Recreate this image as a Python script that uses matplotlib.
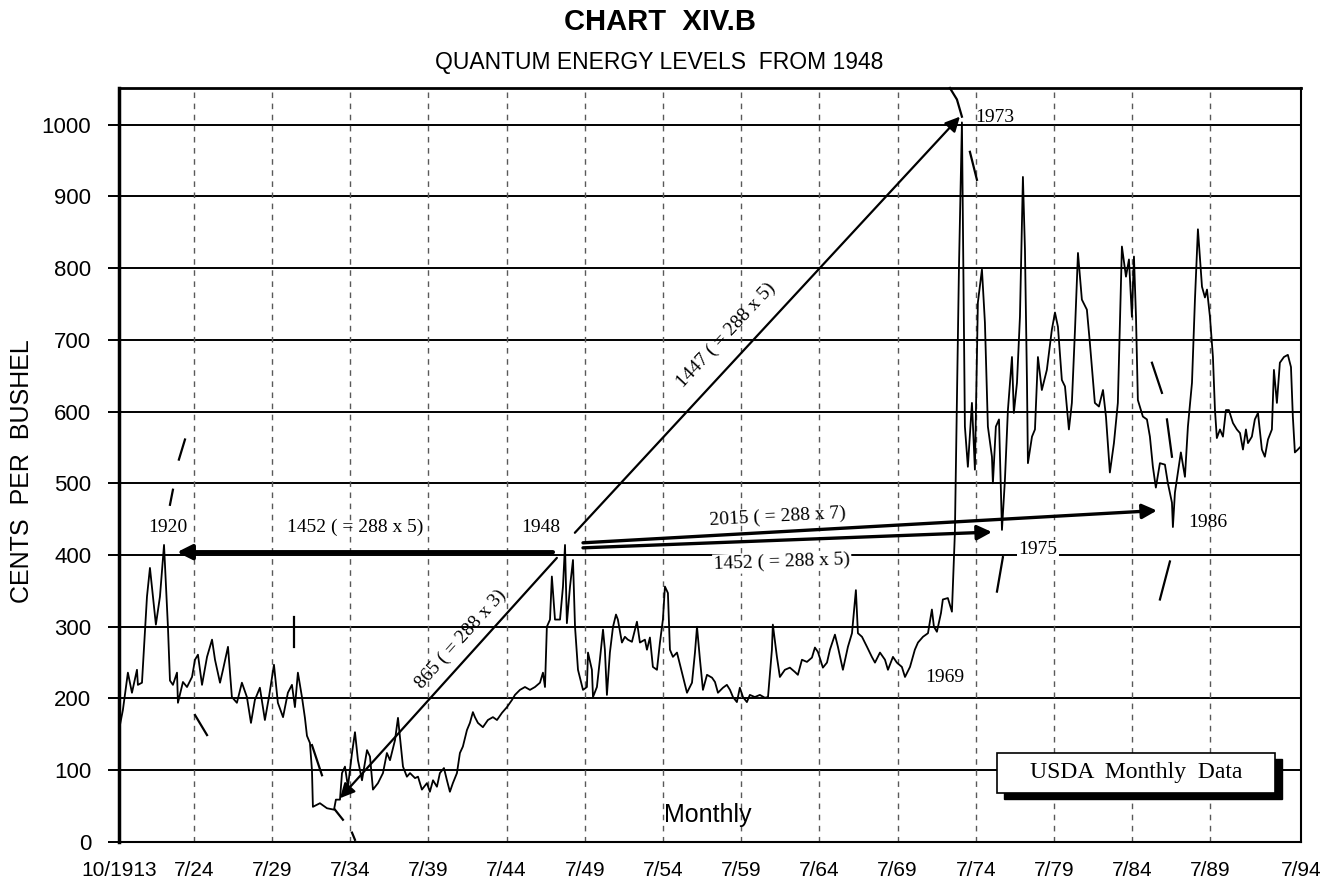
import matplotlib
matplotlib.use("Agg")
import matplotlib.pyplot as plt
from matplotlib.patches import Rectangle

# Precio mensual (centavos por bushel), posición en años sobre el eje
anios = [
    1919.75, 1920.00, 1920.32, 1920.58, 1920.90, 1920.96, 1921.22, 1921.54, 1921.73, 1922.11,
    1922.37, 1922.63, 1922.88, 1923.01, 1923.20, 1923.46, 1923.52, 1923.84, 1924.10, 1924.42,
    1924.61, 1924.80, 1925.06, 1925.38, 1925.70, 1925.89, 1926.21, 1926.40, 1926.72, 1926.97,
    1927.29, 1927.61, 1927.93, 1928.19, 1928.44, 1928.76, 1929.08, 1929.34, 1929.66, 1929.91,
    1930.24, 1930.55, 1930.81, 1931.00, 1931.19, 1931.45, 1931.64, 1931.77, 1931.96, 1932.09,
    1932.15, 1932.60, 1933.05, 1933.50, 1933.62, 1933.88, 1934.01, 1934.20, 1934.39, 1934.65,
    1934.84, 1935.03, 1935.29, 1935.61, 1935.80, 1935.99, 1936.31, 1936.63, 1936.88, 1937.08,
    1937.40, 1937.59, 1937.91, 1938.16, 1938.36, 1938.68, 1938.87, 1939.12, 1939.44, 1939.63,
    1939.83, 1940.08, 1940.27, 1940.53, 1940.72, 1940.91, 1941.10, 1941.36, 1941.55, 1941.74,
    1942.00, 1942.19, 1942.38, 1942.51, 1942.70, 1943.02, 1943.34, 1943.66, 1943.92, 1944.24,
    1944.56, 1944.88, 1945.07, 1945.39, 1945.71, 1946.03, 1946.35, 1946.67, 1946.86, 1946.99,
    1947.11, 1947.31, 1947.43, 1947.63, 1947.95, 1948.14, 1948.27, 1948.39, 1948.59, 1948.78,
    1948.91, 1949.10, 1949.42, 1949.67, 1949.74, 1949.99, 1950.06, 1950.31, 1950.50, 1950.70,
    1950.82, 1950.95, 1951.14, 1951.34, 1951.53, 1951.65, 1951.91, 1952.10, 1952.29, 1952.55,
    1952.87, 1953.06, 1953.38, 1953.51, 1953.70, 1953.89, 1954.15, 1954.34, 1954.53, 1954.66,
    1954.85, 1954.98, 1955.17, 1955.43, 1955.75, 1956.07, 1956.39, 1956.58, 1956.71, 1956.90,
    1957.09, 1957.35, 1957.67, 1957.86, 1958.05, 1958.37, 1958.62, 1958.82, 1959.01, 1959.26,
    1959.45, 1959.65, 1959.90, 1960.09, 1960.41, 1960.73, 1961.05, 1961.25, 1961.50, 1961.56,
    1961.82, 1962.01, 1962.33, 1962.65, 1962.97, 1963.16, 1963.42, 1963.74, 1964.06, 1964.25,
    1964.44, 1964.76, 1965.02, 1965.21, 1965.53, 1965.72, 1966.04, 1966.36, 1966.62, 1966.87,
    1967.00, 1967.26, 1967.58, 1967.89, 1968.09, 1968.41, 1968.73, 1968.92, 1969.24, 1969.49,
    1969.81, 1970.01, 1970.33, 1970.64, 1970.84, 1971.16, 1971.48, 1971.73, 1971.86, 1972.05,
    1972.31, 1972.43, 1972.75, 1973.01, 1973.07, 1973.20, 1973.33, 1973.46, 1973.65, 1973.84,
    1974.03, 1974.29, 1974.48, 1974.67, 1974.93, 1975.12, 1975.31, 1975.57, 1975.63, 1975.82,
    1976.02, 1976.21, 1976.40, 1976.59, 1976.85, 1976.97, 1977.17, 1977.36, 1977.55, 1977.68,
    1977.81, 1977.87, 1978.13, 1978.32, 1978.51, 1978.76, 1979.08, 1979.40, 1979.60, 1979.79,
    1980.04, 1980.24, 1980.49, 1980.68, 1980.88, 1981.07, 1981.32, 1981.64, 1981.83, 1982.15,
    1982.41, 1982.67, 1982.86, 1983.11, 1983.37, 1983.62, 1983.88, 1984.14, 1984.33, 1984.52,
    1984.65, 1984.78, 1984.90, 1985.22, 1985.48, 1985.67, 1985.86, 1986.05, 1986.31, 1986.63,
    1986.82, 1987.08, 1987.14, 1987.27, 1987.46, 1987.65, 1987.91, 1988.10, 1988.36, 1988.55,
    1988.74, 1989.00, 1989.19, 1989.32, 1989.51, 1989.70, 1989.83, 1989.95, 1990.15, 1990.34,
    1990.53, 1990.72, 1990.98, 1991.23, 1991.43, 1991.62, 1991.81, 1991.94, 1992.19, 1992.38,
    1992.58, 1992.83, 1993.02, 1993.22, 1993.47, 1993.60, 1993.79, 1993.98, 1994.24, 1994.49,
    1994.69, 1994.81, 1994.94, 1995.13, 1995.26,
]
centavos = [
    156, 184, 236, 208, 240, 219, 222, 342, 382, 303,
    342, 414, 300, 225, 219, 236, 194, 223, 216, 230,
    254, 261, 219, 258, 282, 254, 222, 240, 272, 202,
    194, 222, 202, 166, 198, 215, 170, 202, 247, 194,
    174, 208, 219, 188, 236, 202, 173, 148, 138, 100,
    49, 54, 47, 45, 59, 59, 96, 105, 77, 124,
    153, 114, 86, 128, 119, 73, 82, 96, 124, 114,
    142, 173, 105, 91, 96, 89, 91, 73, 82, 70,
    86, 77, 96, 103, 86, 70, 82, 96, 124, 133,
    156, 166, 181, 174, 166, 160, 170, 174, 170, 180,
    188, 198, 205, 212, 216, 212, 216, 222, 236, 216,
    300, 310, 370, 310, 310, 356, 414, 305, 356, 393,
    300, 240, 212, 216, 264, 240, 202, 216, 254, 296,
    268, 205, 264, 300, 317, 310, 278, 286, 282, 279,
    307, 278, 282, 268, 285, 244, 240, 278, 310, 356,
    347, 268, 258, 264, 236, 208, 222, 264, 300, 254,
    212, 233, 229, 223, 208, 215, 219, 212, 202, 195,
    215, 202, 195, 205, 202, 205, 201, 202, 268, 303,
    258, 230, 240, 243, 237, 233, 254, 251, 257, 271,
    265, 243, 250, 268, 289, 272, 240, 272, 291, 351,
    291, 286, 272, 258, 250, 264, 254, 240, 258, 250,
    244, 230, 244, 268, 278, 286, 291, 324, 300, 293,
    319, 338, 340, 321, 356, 431, 616, 800, 1003, 579,
    523, 612, 519, 752, 798, 724, 579, 537, 500, 579,
    589, 435, 505, 602, 676, 598, 640, 732, 927, 826,
    640, 528, 565, 575, 676, 630, 658, 714, 738, 718,
    644, 635, 575, 612, 714, 821, 756, 742, 696, 612,
    607, 630, 593, 515, 556, 612, 830, 788, 812, 732,
    816, 732, 616, 593, 589, 565, 523, 494, 528, 526,
    500, 473, 439, 487, 515, 543, 509, 579, 640, 756,
    854, 774, 759, 770, 732, 676, 602, 563, 575, 565,
    602, 602, 584, 575, 570, 547, 575, 556, 565, 589,
    598, 547, 537, 561, 575, 658, 612, 668, 676, 679,
    662, 593, 543, 547, 550,
]

# Eje X
x_min, x_max = 1919.75, 1995.33
pos_ticks = [x_min, 1924.54, 1929.54, 1934.54, 1939.54, 1944.54, 1949.54, 1954.54,
             1959.54, 1964.54, 1969.54, 1974.54, 1979.54, 1984.54, 1989.54, x_max]
etiquetas_x = ["10/1913", "7/24", "7/29", "7/34", "7/39", "7/44", "7/49", "7/54",
               "7/59", "7/64", "7/69", "7/74", "7/79", "7/84", "7/89", "7/94"]
ticks_y = list(range(0, 1001, 100))

# Flechas: (inicio, fin, grosor)
flechas = [
    ((1947.50, 404), (1923.46, 404), 3.0),
    ((1947.75, 396), (1933.88, 61), 1.6),
    ((1948.90, 431), (1973.52, 1011), 1.6),
    ((1949.42, 417), (1986.12, 462), 2.4),
    ((1949.42, 410), (1975.57, 432), 2.4),
]

# Textos de las flechas: (x, y, texto, rotación, fondo blanco)
textos_flechas = [
    (1934.84, 439, "1452 ( = 288 x 5)", 0, False),
    (1941.62, 282, "865 ( = 288 x 3)", 48, False),
    (1958.56, 706, "1447 ( = 288 x 5)", 47, False),
    (1961.89, 453, "2015 ( = 288 x 7)", 3, False),
    (1962.14, 390, "1452 ( = 288 x 5)", 2, True),
]

# Años marcados
anios_marcados = [
    (1922.88, 439, "1920", False),
    (1946.73, 438, "1948", False),
    (1975.76, 1010, "1973", False),
    (1972.56, 229, "1969", False),
    (1978.51, 407, "1975", True),
    (1989.38, 446, "1986", False),
]

# Trazos a mano (líneas discontinuas curvas)
trazos = [
    ([1923.01, 1923.20], [470, 491]),
    ([1923.58, 1923.97], [533, 561]),
    ([1924.61, 1925.38], [177, 149]),
    ([1930.94, 1930.94], [314, 272]),
    ([1932.09, 1932.73], [135, 93]),
    ([1933.56, 1934.07], [45, 31]),
    ([1934.65, 1934.84], [13, 3]),
    ([1972.88, 1973.33, 1973.65], [1051, 1035, 1011]),
    ([1974.16, 1974.61], [962, 923]),
    ([1976.27, 1975.89], [397, 349]),
    ([1985.80, 1986.44], [668, 626]),
    ([1986.76, 1987.08], [589, 537]),
    ([1986.95, 1986.31], [391, 338]),
]

sans = "Liberation Sans"
serif = "Liberation Serif"

fig = plt.figure(figsize=(13.22, 8.86), dpi=100)
ax = fig.add_axes([0.090, 0.0497, 0.8941, 0.851])

ax.plot(anios, centavos, color="black", lw=1.3, zorder=3)

ax.set_xlim(x_min, x_max)
ax.set_ylim(0, 1051)

# Rejilla
for v in ticks_y:
    ax.axhline(v, color="black", lw=1.4, zorder=1)
for p in pos_ticks[1:-1]:
    ax.axvline(p, color="0.35", lw=1.0, ls=(0, (4, 4)), zorder=1)

ax.set_xticks(pos_ticks)
ax.set_xticklabels(etiquetas_x, fontfamily=sans, fontsize=15)
ax.set_yticks(ticks_y)
ax.set_yticklabels([str(v) for v in ticks_y], fontfamily=sans, fontsize=16)
ax.tick_params(axis="x", length=0, pad=14)
ax.tick_params(axis="y", length=8, width=1.4, pad=12)

ax.spines["left"].set_linewidth(2.5)
ax.spines["top"].set_linewidth(2.0)
ax.spines["right"].set_linewidth(1.5)
ax.spines["bottom"].set_linewidth(1.5)

# Flechas
for ini, fin, grosor in flechas:
    ax.annotate("", xy=fin, xytext=ini,
                arrowprops=dict(arrowstyle="-|>", color="black", lw=grosor,
                                mutation_scale=22, shrinkA=0, shrinkB=0),
                zorder=4)

for x, y, t, rot, fondo in textos_flechas:
    caja = dict(facecolor="white", edgecolor="none", pad=1) if fondo else None
    ax.text(x, y, t, fontfamily=serif, fontsize=14, ha="center", va="center",
            rotation=rot, rotation_mode="anchor", bbox=caja, zorder=5)

for x, y, t, fondo in anios_marcados:
    caja = dict(facecolor="white", edgecolor="none", pad=1) if fondo else None
    ax.text(x, y, t, fontfamily=serif, fontsize=14, ha="center", va="center",
            bbox=caja, zorder=5)

for xs, ys in trazos:
    ax.plot(xs, ys, color="black", lw=1.6, zorder=4, clip_on=False)

ax.text(1957.41, 38, "Monthly", fontfamily=sans, fontsize=18, ha="center", va="center")

# Caja "USDA Monthly Data" con sombra
ax.add_patch(Rectangle((0.749, 0.057), 0.235, 0.053, transform=ax.transAxes,
                       facecolor="black", edgecolor="black", zorder=5))
ax.add_patch(Rectangle((0.743, 0.065), 0.235, 0.053, transform=ax.transAxes,
                       facecolor="white", edgecolor="black", lw=1.2, zorder=6))
ax.text(0.8605, 0.0915, "USDA  Monthly  Data", transform=ax.transAxes,
        fontfamily=serif, fontsize=17, ha="center", va="center", zorder=7)

# Títulos y etiqueta Y
fig.text(0.499, 1 - 22 / 886, "CHART  XIV.B", fontfamily=sans, fontsize=21,
         fontweight="bold", ha="center", va="center")
fig.text(0.499, 1 - 62 / 886, "QUANTUM ENERGY LEVELS  FROM 1948", fontfamily=sans,
         fontsize=16.5, ha="center", va="center")
fig.text(22 / 1322, 1 - 471 / 886, "CENTS  PER  BUSHEL", fontfamily=sans, fontsize=18,
         rotation=90, ha="center", va="center")

fig.savefig("out.png", dpi=100)
